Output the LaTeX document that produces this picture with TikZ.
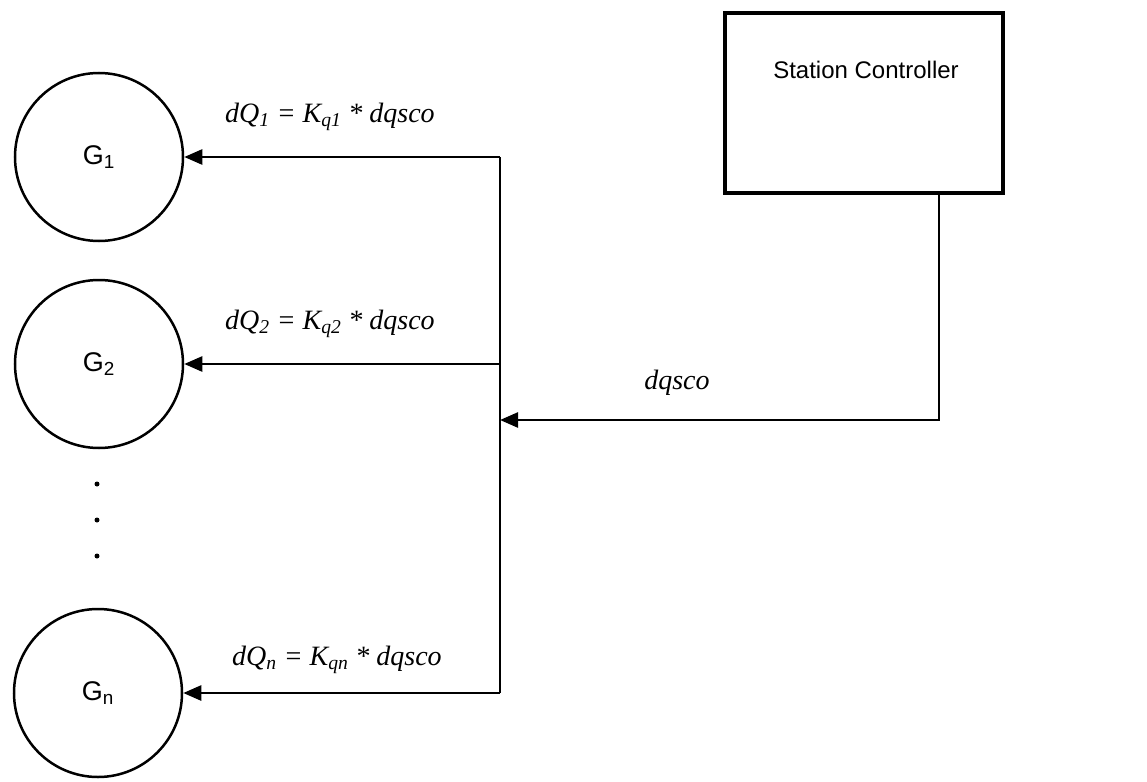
\documentclass[tikz,border=0pt]{standalone}
\usepackage{fontspec}
\setmainfont{Liberation Serif}
\newfontfamily\sansf{Liberation Sans}
\usetikzlibrary{arrows.meta}
\tikzset{
  gen/.style={circle,draw,line width=2.5pt,minimum size=168pt,inner sep=0pt,font=\sansf\fontsize{27}{30}\selectfont},
  ctrl/.style={rectangle,draw,line width=3.5pt,minimum width=278pt,minimum height=180pt,inner sep=0pt},
  conn/.style={line width=2.5pt},
  arr/.style={line width=2.5pt,-{Triangle[length=18pt,width=15pt]}},
  eq/.style={font=\fontsize{28}{32}\selectfont\itshape},
  dotm/.style={circle,fill,inner sep=0pt,minimum size=5pt}
}
\begin{document}
\begin{tikzpicture}[x=1pt,y=-1pt]
\useasboundingbox (0,0) rectangle (1147,781);
\fill[white] (0,0) rectangle (1147,781);
% generators
\node[gen] (g1) at (99,157) {G\textsubscript{1}};
\node[gen] (g2) at (99,364) {G\textsubscript{2}};
\node[gen] (gn) at (98,693) {G\textsubscript{n}};
\node[dotm] (d1) at (97,484) {};
\node[dotm] (d2) at (97,520) {};
\node[dotm] (d3) at (97,556) {};
% station controller
\node[ctrl] (sc) at (864,103) {};
\node[font=\sansf\fontsize{24}{28}\selectfont] (sclabel) at (866,70) {Station Controller};
% bus
\coordinate (b1) at (500,157);
\coordinate (b2) at (500,364);
\coordinate (bd) at (500,420);
\coordinate (bn) at (500,693);
\coordinate (sd) at (939,420);
\draw[conn] (b1) -- (bn);
\draw[arr] (b1) -- (g1.east);
\draw[arr] (b2) -- (g2.east);
\draw[arr] (bn) -- (gn.east);
\draw[arr] (sc.south -| sd) -- (sd) -- (bd);
% labels
\node[eq] (l1) at (330,117) {dQ\textsubscript{1} = K\textsubscript{q1} * dqsco};
\node[eq] (l2) at (330,324) {dQ\textsubscript{2} = K\textsubscript{q2} * dqsco};
\node[eq] (ln) at (337,660) {dQ\textsubscript{n} = K\textsubscript{qn} * dqsco};
\node[eq] (ld) at (677,383) {dqsco};
\end{tikzpicture}
\end{document}
